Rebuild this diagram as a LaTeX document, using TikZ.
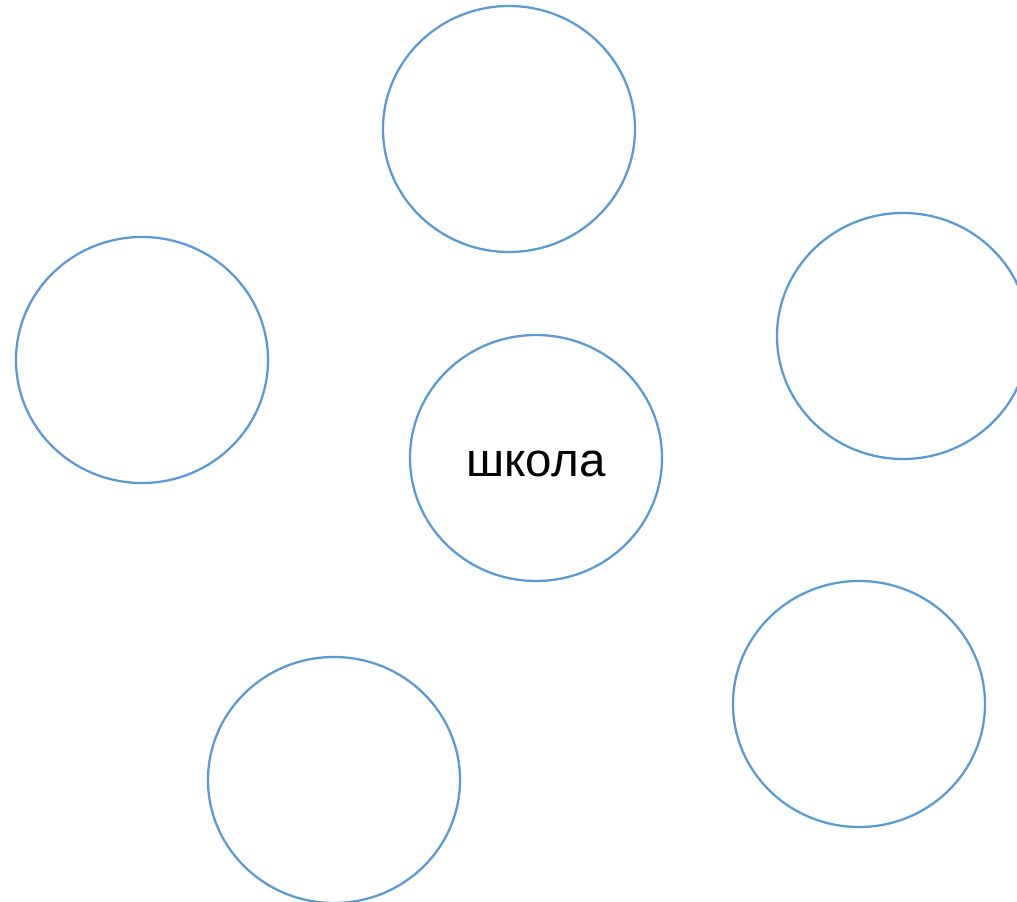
\documentclass[tikz,border=0pt]{standalone}
\usepackage{fontspec}
\setmainfont{Liberation Sans}
\usetikzlibrary{shapes.geometric}
\definecolor{bubblec}{HTML}{5B9BD5}

\begin{document}
\begin{tikzpicture}[bubble/.style={ellipse, draw=bubblec, line width=1.3pt,
    minimum width=5.04cm, minimum height=4.92cm, inner sep=0pt}]
  \useasboundingbox (0,0) rectangle (20.34,18.04);
  \clip (0,0) rectangle (20.34,18.04);
  \node[bubble] (top) at (10.18,15.46) {};
  \node[bubble] (left) at (2.84,10.84) {};
  \node[bubble] (right) at (18.06,11.32) {};
  \node[bubble, label={[font=\fontsize{27}{32}\selectfont, yshift=-0.12cm]center:школа}]
    (school) at (10.72,8.88) {};
  \node[bubble] (botleft) at (6.68,2.44) {};
  \node[bubble] (botright) at (17.18,3.96) {};
\end{tikzpicture}
\end{document}
